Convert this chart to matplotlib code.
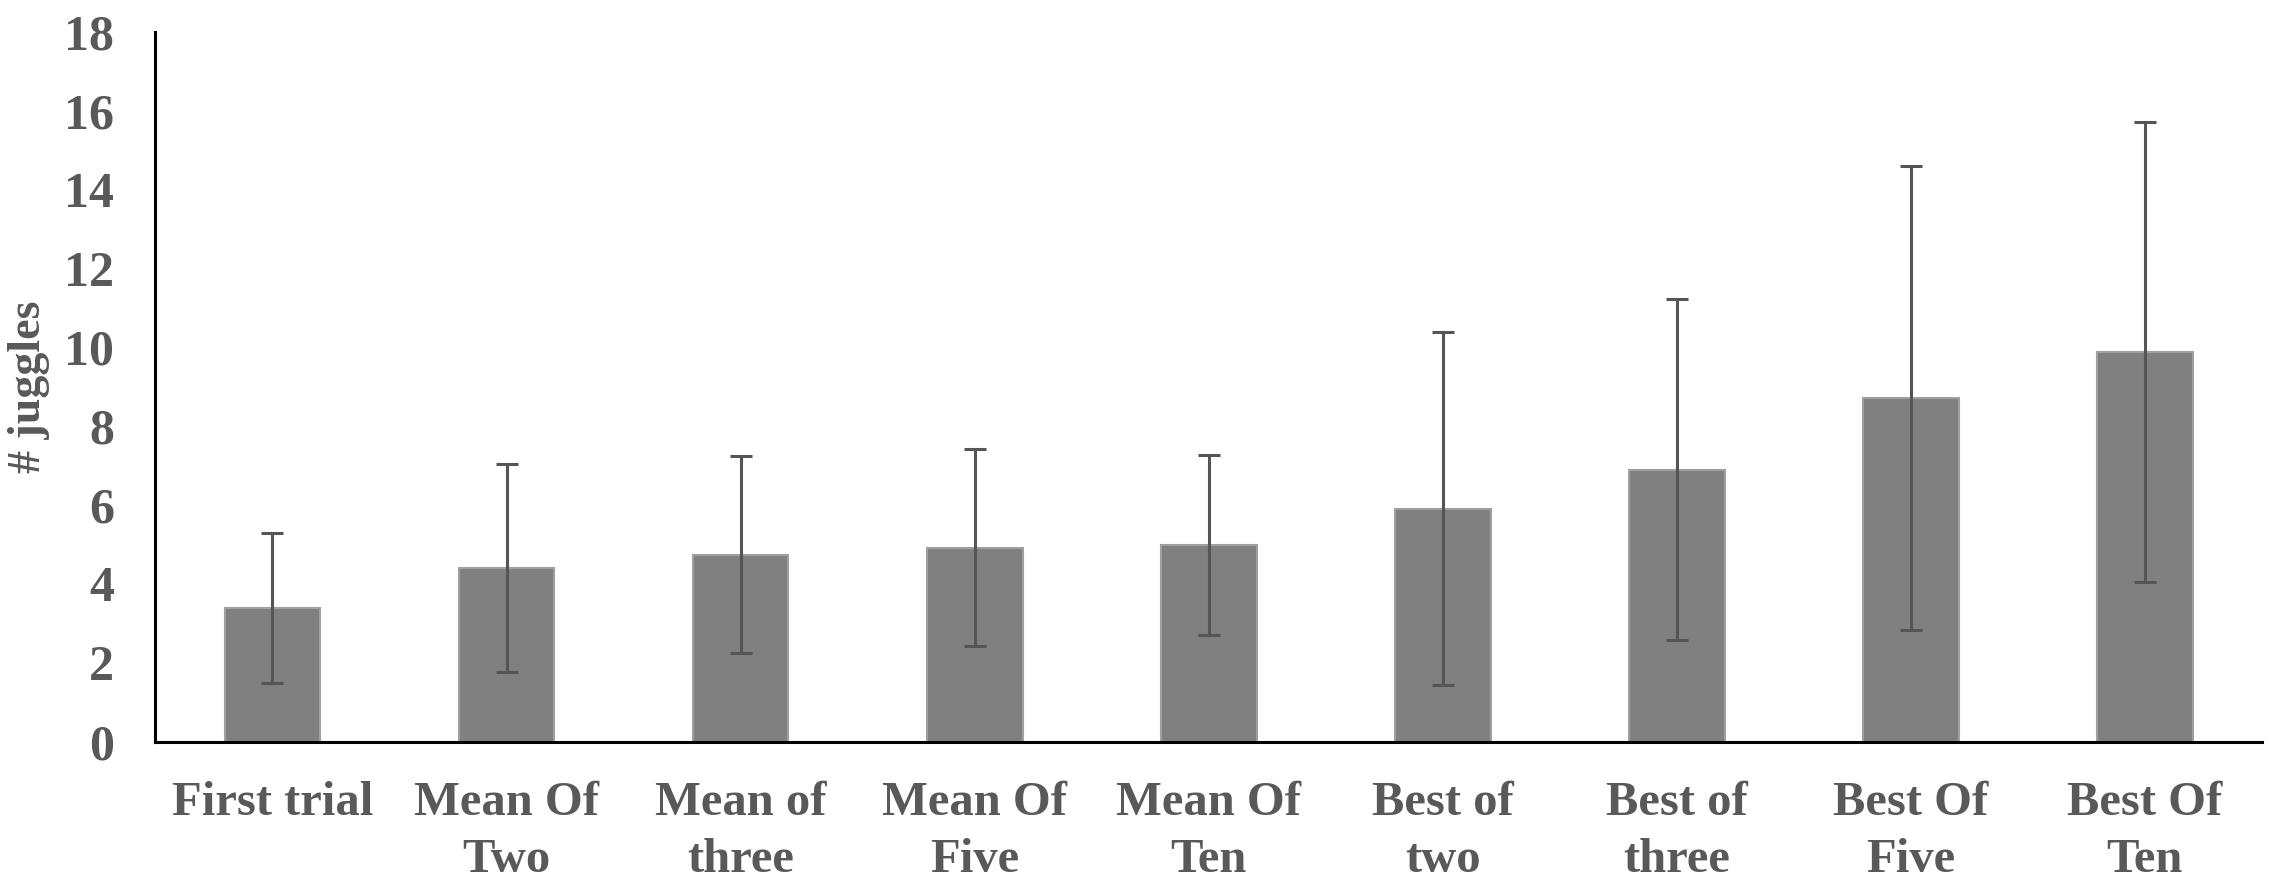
import numpy as np
from matplotlib import pyplot as plt

categories = ['First trial', 'Mean Of\nTwo', 'Mean of\nthree', 'Mean Of\nFive', 'Mean Of\nTen',
              'Best of\ntwo', 'Best of\nthree', 'Best Of\nFive', 'Best Of\nTen']
means = [3.40, 4.40, 4.74, 4.92, 4.98, 5.91, 6.90, 8.71, 9.88]
errors = [1.90, 2.63, 2.50, 2.50, 2.28, 4.47, 4.32, 5.88, 5.83]
y_ticks = [0, 2, 4, 6, 8, 10, 12, 14, 16, 18]

plt.rcParams['font.family'] = ['Liberation Serif', 'DejaVu Serif']
plt.rcParams['font.weight'] = 'bold'

fig = plt.figure(figsize=(22.73, 8.86), dpi=100)
ax = fig.add_axes([0.0684, 0.1629, 0.9266, 0.8011])

x = np.arange(len(categories))
ax.bar(x, means, width=0.41, color='#808080', edgecolor='#a0a0a0', linewidth=1.5, zorder=2)
ax.errorbar(x, means, yerr=errors, fmt='none', ecolor='#555555', elinewidth=2.2,
            capsize=8, capthick=2.2, zorder=3)

ax.set_xlim(-0.5, len(categories) - 0.5)
ax.set_ylim(0, 18)
ax.set_yticks(y_ticks)
ax.set_xticks(x)
ax.set_xticklabels(categories, fontsize=35, fontweight='bold', color='#595959', linespacing=1.4)
ax.tick_params(axis='x', length=0, pad=28)
ax.tick_params(axis='y', length=0, pad=30, labelsize=36, labelcolor='#595959')
for lab in ax.get_yticklabels():
    lab.set_fontweight('bold')

ax.set_ylabel('# juggles', fontsize=33, fontweight='bold', color='#595959', labelpad=10)

for side in ['top', 'right']:
    ax.spines[side].set_visible(False)
for side in ['left', 'bottom']:
    ax.spines[side].set_linewidth(2.2)
    ax.spines[side].set_color('black')

fig.savefig('out.png', dpi=100)
